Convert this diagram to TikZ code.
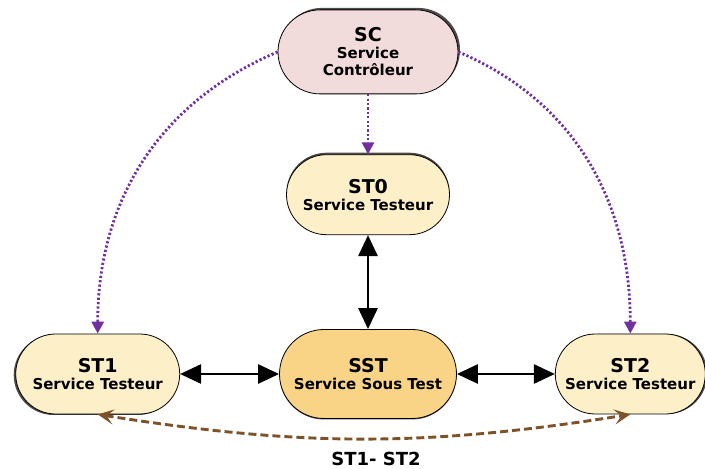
\documentclass[tikz,border=0pt]{standalone}
\usepackage{fontspec}
\setmainfont{DejaVu Sans}
\usepackage{tikz}
\usetikzlibrary{shapes.misc, arrows.meta, positioning, shadows}
\definecolor{ctrlpink}{HTML}{F2DCDB}
\definecolor{testcream}{HTML}{FDEFC8}
\definecolor{sutorange}{HTML}{F9D487}
\definecolor{ctrlpurple}{HTML}{7030A0}
\definecolor{linkbrown}{HTML}{7F5128}
\newcommand{\nodetitle}[1]{{\fontsize{19}{19}\selectfont #1}}

\begin{document}
\begin{tikzpicture}[
  svc/.style={rounded rectangle,draw=black,line width=0.8pt,align=center,font=\bfseries\fontsize{15}{17}\selectfont,inner sep=1pt},
  sh/.style 2 args={drop shadow={shadow xshift=#1,shadow yshift=#2,fill=black!70,opacity=1}},
  ctrl/.style={svc,fill=ctrlpink,minimum width=182pt,minimum height=84pt},
  tester/.style={svc,fill=testcream,minimum height=80pt},
  sut/.style={svc,fill=sutorange,minimum width=179pt,minimum height=89pt},
  blk/.style={{Triangle[length=21pt,width=19pt]}-{Triangle[length=21pt,width=19pt]},line width=2.7pt,black},
  ctl/.style={-{Triangle[length=12pt,width=12pt]},line width=2.8pt,dash pattern=on 2.2pt off 2.2pt,color=ctrlpurple},
  lnk/.style={{Stealth[length=16pt,width=15pt,inset=7pt]}-{Stealth[length=16pt,width=15pt,inset=7pt]},line width=2.9pt,dash pattern=on 8pt off 4pt,color=linkbrown}
]
\useasboundingbox (0,0) rectangle (705pt,469pt);
\node[sut, sh={0pt}{-1pt}] (sst) at (368pt,95pt) {\nodetitle{SST}\\Service Sous Test};
\node[tester, sh={0pt}{2pt}, minimum width=165pt, above=94pt of sst] (st0) {\nodetitle{ST0}\\Service Testeur};
\node[tester, sh={-2pt}{-1pt}, minimum width=166pt, left=99pt of sst] (st1) {\nodetitle{ST1}\\Service Testeur};
\node[tester, sh={2pt}{0pt}, minimum width=152pt, right=98pt of sst] (st2) {\nodetitle{ST2}\\Service Testeur};
\node[ctrl, sh={2pt}{2pt}, above=60pt of st0] (sc) {\nodetitle{SC}\\Service\\Contrôleur};
\node[font=\bfseries\fontsize{18}{18}\selectfont, anchor=center] (lbl) at (376pt,10pt) {ST1- ST2};
\draw[blk] (st0.south) -- (sst.north);
\draw[blk] (st1.east) -- (sst.west);
\draw[blk] (sst.east) -- (st2.west);
\draw[ctl] (sc.south) -- (st0.north);
\draw[ctl] (sc.west) to[out=203,in=90] (st1.north);
\draw[ctl] (sc.east) to[out=-23,in=90] (st2.north);
\draw[lnk] (st1.south) to[bend right=9] (st2.south);
\end{tikzpicture}
\end{document}
